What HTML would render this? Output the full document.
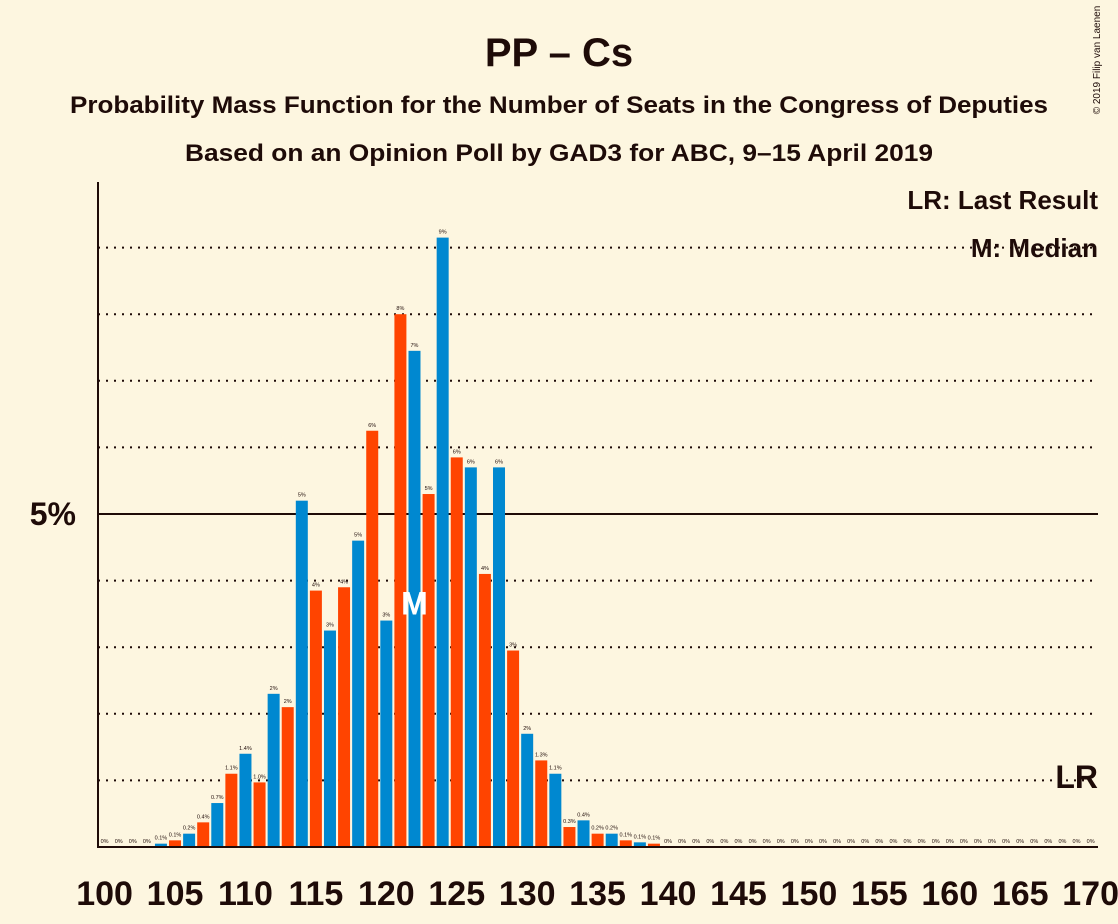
<!DOCTYPE html>
<html><head><meta charset="utf-8">
<style>
body{margin:0;background:#fdf6e0;}
svg{display:block;font-family:"Liberation Sans",sans-serif;}
</style></head>
<body>
<svg id="chart" width="1118" height="924" viewBox="0 0 1118 924">
<rect width="1118" height="924" fill="#fdf6e0"/>
<text x="559" y="66" text-anchor="middle" font-size="40" font-weight="bold" fill="#1e0b08">PP – Cs</text>
<text x="559" y="113" text-anchor="middle" font-size="24" font-weight="bold" fill="#1e0b08" textLength="978" lengthAdjust="spacingAndGlyphs">Probability Mass Function for the Number of Seats in the Congress of Deputies</text>
<text x="559" y="161" text-anchor="middle" font-size="24" font-weight="bold" fill="#1e0b08" textLength="748" lengthAdjust="spacingAndGlyphs">Based on an Opinion Poll by GAD3 for ABC, 9–15 April 2019</text>
<text x="1100" y="60" font-size="10" fill="#1e0b08" transform="rotate(-90 1100 60)" text-anchor="middle">© 2019 Filip van Laenen</text>
<g id="grid"></g>
<g id="bars"></g>
<g id="xlabels"></g>
<line x1="98" y1="182" x2="98" y2="848" stroke="#1e0b08" stroke-width="2"/>
<line x1="97" y1="847" x2="1098" y2="847" stroke="#1e0b08" stroke-width="2"/>
<text x="76" y="525" text-anchor="end" font-size="32" font-weight="bold" fill="#1e0b08">5%</text>
<text x="1098" y="209" text-anchor="end" font-size="26" font-weight="bold" fill="#1e0b08">LR: Last Result</text>
<text x="1098" y="257" text-anchor="end" font-size="26" font-weight="bold" fill="#1e0b08">M: Median</text>
<text x="1098" y="788" text-anchor="end" font-size="32" font-weight="bold" fill="#1e0b08">LR</text>
</svg>
<script>
const seats = [];
for (let s = 100; s <= 170; s++) seats.push(s);
const probs = [0,0,0,0,0.05,0.1,0.2,0.37,0.66,1.1,1.4,0.97,2.3,2.1,5.2,3.85,3.25,3.9,4.6,6.25,3.4,8.0,7.45,5.3,9.15,5.85,5.7,4.1,5.7,2.95,1.7,1.3,1.1,0.3,0.4,0.2,0.2,0.1,0.07,0.05,0,0,0,0,0,0,0,0,0,0,0,0,0,0,0,0,0,0,0,0,0,0,0,0,0,0,0,0,0,0,0];
const xTicks = [100,105,110,115,120,125,130,135,140,145,150,155,160,165,170];
const gridVals = [1,2,3,4,5,6,7,8,9];
const medianSeat = 122;

const ns = "http://www.w3.org/2000/svg";
const X = s => 104.6 + (s - 100) * 14.086;
const Y = v => 847 - v * 66.6;
function mk(tag, attrs, parent){const e=document.createElementNS(ns,tag);for(const k in attrs)e.setAttribute(k,attrs[k]);parent.appendChild(e);return e;}
const grid = document.getElementById('grid');
gridVals.forEach(v => {
  const l = mk('line',{x1:98,x2:1098,y1:Y(v),y2:Y(v),stroke:'#1e0b08','stroke-width':2,'stroke-dasharray':v===5?'none':'2 6'},grid);
  
  
});
const bars = document.getElementById('bars');
seats.forEach((s,i) => {
  const v = probs[i];
  const col = s % 2 === 0 ? '#0088d0' : '#ff4400';
  if (v > 0) {
    const r = mk('rect',{x:X(s)-6,y:Y(v),width:12,height:847-Y(v),fill:col},bars);
    
    
  }
  let lab;
  if (v < 0.05) lab = '0%';
  else if (v < 1.5) lab = v.toFixed(1) + '%';
  else lab = Math.round(v) + '%';
  const t = mk('text',{x:X(s),y:Y(v)-4,'text-anchor':'middle','font-size':5.5,fill:'#1e0b08'},bars);
  t.textContent = lab;
  
  
});
const mt = mk('text',{x:X(medianSeat),y:Y(3.4)-6,'text-anchor':'middle','font-size':32,'font-weight':'bold',fill:'#ffffff'},bars);
mt.textContent = 'M';


const xl = document.getElementById('xlabels');
xTicks.forEach(s => {
  const t = mk('text',{x:X(s),y:905,'text-anchor':'middle','font-size':34,'font-weight':'bold',fill:'#1e0b08'},xl);
  t.textContent = s;
  
  
});
</script>
</body></html>
